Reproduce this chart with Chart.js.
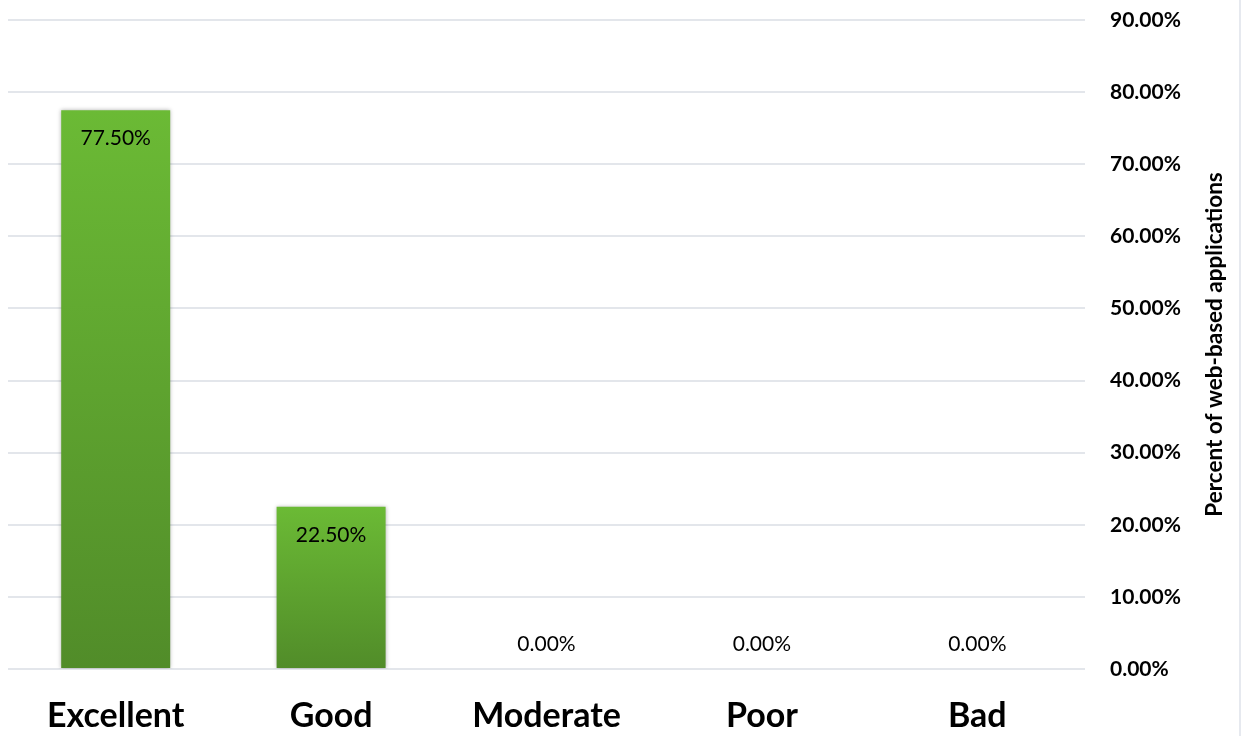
<!DOCTYPE html>
<html lang="en">
  <head>
    <meta charset="utf-8" />
    <title>Web-based applications</title>
    <style>
      * {
        margin: 0;
        padding: 0;
      }
      body {
        background: #fff;
      }
      .chartBox {
        width: 1239px;
        height: 736px;
        border-right: 2px solid #e6e9ef;
      }
    </style>
  </head>
  <body>
    <div class="chartBox">
      <canvas id="myChart"></canvas>
    </div>
    <script src="https://cdn.jsdelivr.net/npm/chart.js/dist/chart.umd.min.js"></script>
    <script>
      const categories = ["Excellent", "Good", "Moderate", "Poor", "Bad"];
      const percentValues = [77.5, 22.5, 0, 0, 0];
      const yTicks = [0, 10, 20, 30, 40, 50, 60, 70, 80, 90];
      const yTitle = "Percent of web-based applications";

      // vertical gradient per bar, light on top
      function barGradient(context) {
        const chart = context.chart;
        const yScale = chart.scales.y;
        if (!yScale || context.parsed == null) return "#5fa531";
        const top = yScale.getPixelForValue(context.parsed.y);
        const base = yScale.getPixelForValue(0);
        if (!isFinite(top) || Math.abs(base - top) < 1) return "#5fa531";
        const g = chart.ctx.createLinearGradient(0, top, 0, base);
        g.addColorStop(0, "#6bba35");
        g.addColorStop(1, "#518c29");
        return g;
      }

      const barShadow = {
        id: "barShadow",
        beforeDatasetsDraw(chart) {
          const ctx = chart.ctx;
          ctx.save();
          ctx.shadowColor = "rgba(0, 0, 0, 0.3)";
          ctx.shadowBlur = 4;
        },
        afterDatasetsDraw(chart) {
          chart.ctx.restore();
        },
      };

      const valueLabels = {
        id: "valueLabels",
        afterDatasetsDraw(chart) {
          const ctx = chart.ctx;
          const meta = chart.getDatasetMeta(0);
          ctx.save();
          ctx.font = "21px Lato, sans-serif";
          ctx.fillStyle = "#000";
          ctx.textAlign = "center";
          ctx.textBaseline = "middle";
          meta.data.forEach((bar, i) => {
            const v = percentValues[i];
            const y = v > 0 ? bar.y + 28 : bar.base - 25;
            ctx.fillText(v.toFixed(2) + "%", bar.x, y);
          });
          ctx.restore();
        },
      };

      // axis title reading bottom to top on the right side
      const rightTitle = {
        id: "rightTitle",
        afterDraw(chart) {
          const ctx = chart.ctx;
          const area = chart.chartArea;
          ctx.save();
          ctx.translate(1215, (area.top + area.bottom) / 2);
          ctx.rotate(-Math.PI / 2);
          ctx.font = "bold 22.5px Lato, sans-serif";
          ctx.fillStyle = "#000";
          ctx.textAlign = "center";
          ctx.textBaseline = "middle";
          ctx.fillText(yTitle, 0, 0);
          ctx.restore();
        },
      };

      const data = {
        labels: categories,
        datasets: [
          {
            label: "Percent",
            data: percentValues,
            backgroundColor: barGradient,
            borderWidth: 0,
            barPercentage: 0.506,
            categoryPercentage: 1,
          },
        ],
      };

      const config = {
        type: "bar",
        data,
        options: {
          responsive: false,
          animation: false,
          layout: {
            padding: { left: 8, right: 57, top: 20, bottom: 0 },
          },
          plugins: {
            legend: { display: false },
            tooltip: { enabled: false },
          },
          scales: {
            x: {
              grid: { display: false, drawTicks: false },
              border: { display: false },
              afterFit(scale) {
                scale.height = 67;
                scale.paddingLeft = 0;
                scale.paddingRight = 0;
              },
              ticks: {
                color: "#000",
                padding: 27,
                maxRotation: 0,
                font: { family: "Lato, sans-serif", size: 34, weight: "bold" },
              },
            },
            y: {
              position: "right",
              min: 0,
              max: 90,
              afterBuildTicks(scale) {
                scale.ticks = yTicks.map((v) => ({ value: v }));
              },
              afterFit(scale) {
                scale.width = 97;
                scale.paddingTop = 0;
                scale.paddingBottom = 0;
              },
              grid: {
                color: "#e3e6eb",
                lineWidth: 2,
                drawTicks: false,
              },
              border: { display: false },
              ticks: {
                color: "#000",
                padding: 25,
                font: { family: "Lato, sans-serif", size: 21, weight: "bold" },
                callback: (v) => v.toFixed(2) + "%",
              },
            },
          },
        },
        plugins: [barShadow, valueLabels, rightTitle],
      };

      const canvas = document.getElementById("myChart");
      canvas.width = 1239;
      canvas.height = 736;
      const myChart = new Chart(canvas, config);
    </script>
  </body>
</html>
